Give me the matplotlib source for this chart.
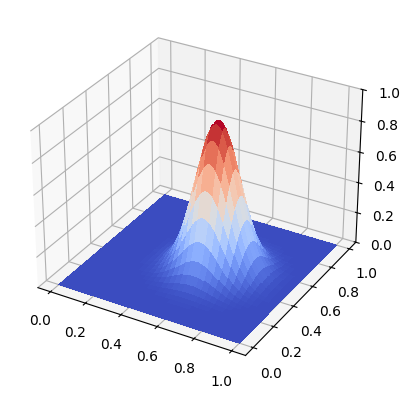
import numpy as np
import matplotlib
matplotlib.use("Agg")
import matplotlib.pyplot as plt
from matplotlib import cm

# grid along each side of the square
grid = [i / 100 for i in range(101)]

# top of the bump
peak = 0.965

# shape of the bump along x and along y
profile_x = [0, 0, 0, 0, 0, 0, 0, 0, 0, 0,
             0, 0.0001, 0.0001, 0.0001, 0.0002, 0.0002, 0.0003, 0.0005, 0.0007, 0.001,
             0.0013, 0.0018, 0.0026, 0.0035, 0.0047, 0.0063, 0.0084, 0.0112, 0.0146, 0.0189,
             0.0243, 0.0309, 0.0391, 0.0491, 0.0612, 0.0756, 0.0928, 0.1125, 0.1353, 0.1616,
             0.1914, 0.2248, 0.262, 0.303, 0.3475, 0.395, 0.4451, 0.4975, 0.5516, 0.6065,
             0.6615, 0.7155, 0.7677, 0.8168, 0.8619, 0.9019, 0.936, 0.9635, 0.9836, 0.9959,
             1.0, 0.9959, 0.9836, 0.9635, 0.936, 0.9019, 0.8619, 0.8168, 0.7677, 0.7155,
             0.6615, 0.6065, 0.5516, 0.4975, 0.4451, 0.395, 0.3475, 0.303, 0.262, 0.2248,
             0.1914, 0.1616, 0.1353, 0.1125, 0.0928, 0.0756, 0.0612, 0.0491, 0.0391, 0.0309,
             0.0243, 0.0189, 0.0146, 0.0112, 0.0084, 0.0063, 0.0047, 0.0035, 0.0026, 0.0018, 0.0013]
profile_y = [0, 0.0001, 0.0001, 0.0001, 0.0002, 0.0002, 0.0003, 0.0005, 0.0007, 0.001,
             0.0013, 0.0018, 0.0026, 0.0035, 0.0047, 0.0063, 0.0084, 0.0112, 0.0146, 0.0189,
             0.0243, 0.0309, 0.0391, 0.0491, 0.0612, 0.0756, 0.0928, 0.1125, 0.1353, 0.1616,
             0.1914, 0.2248, 0.262, 0.303, 0.3475, 0.395, 0.4451, 0.4975, 0.5516, 0.6065,
             0.6615, 0.7155, 0.7677, 0.8168, 0.8619, 0.9019, 0.936, 0.9635, 0.9836, 0.9959,
             1.0, 0.9959, 0.9836, 0.9635, 0.936, 0.9019, 0.8619, 0.8168, 0.7677, 0.7155,
             0.6615, 0.6065, 0.5516, 0.4975, 0.4451, 0.395, 0.3475, 0.303, 0.262, 0.2248,
             0.1914, 0.1616, 0.1353, 0.1125, 0.0928, 0.0756, 0.0612, 0.0491, 0.0391, 0.0309,
             0.0243, 0.0189, 0.0146, 0.0112, 0.0084, 0.0063, 0.0047, 0.0035, 0.0026, 0.0018,
             0.0013, 0.001, 0.0007, 0.0005, 0.0003, 0.0002, 0.0002, 0.0001, 0.0001, 0.0001, 0]

X, Y = np.meshgrid(grid, grid)
Z = peak * np.outer(profile_y, profile_x)

fig = plt.figure()
ax = fig.add_subplot(projection='3d')
ax.plot_surface(X, Y, Z, cmap=cm.coolwarm, linewidth=0, antialiased=False)
ax.set_zlim(0, 1)

plt.savefig('out.png', dpi=100, bbox_inches='tight')
